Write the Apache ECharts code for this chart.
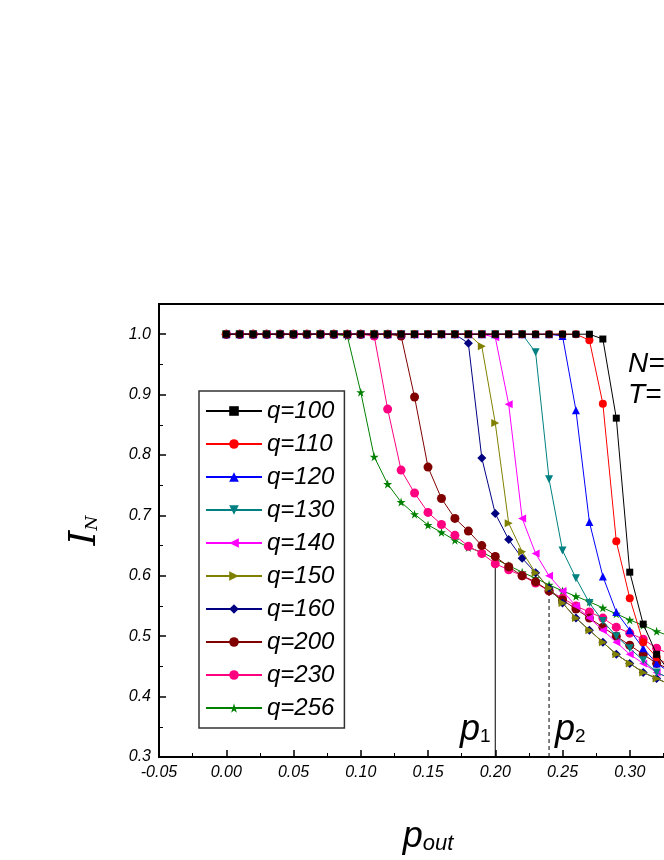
<!DOCTYPE html>
<html><head><meta charset="utf-8">
<script src="https://cdn.jsdelivr.net/npm/echarts@6/dist/echarts.min.js"></script>
<style>html,body{margin:0;padding:0;background:#fff;overflow:hidden}#c{width:740px;height:860px}</style>
</head><body><div id="c"></div>
<script>
const xs = [0.00,0.01,0.02,0.03,0.04,0.05,0.06,0.07,0.08,0.09,0.10,0.11,0.12,0.13,0.14,0.15,0.16,0.17,0.18,0.19,0.20,0.21,0.22,0.23,0.24,0.25,0.26,0.27,0.28,0.29,0.30,0.31,0.32,0.33];
const names = ['q=100','q=110','q=120','q=130','q=140','q=150','q=160','q=200','q=230','q=256'];
const q100 = [1,1,1,1,1,1,1,1,1,1,1,1,1,1,1,1,1,1,1,1,1,1,1,1,1,1,1,1,0.992,0.861,0.606,0.52,0.47,0.44];
const q110 = [1,1,1,1,1,1,1,1,1,1,1,1,1,1,1,1,1,1,1,1,1,1,1,1,1,1,1,0.99,0.885,0.657,0.563,0.49,0.465,0.45];
const q120 = [1,1,1,1,1,1,1,1,1,1,1,1,1,1,1,1,1,1,1,1,1,1,1,1,1,0.997,0.874,0.689,0.599,0.54,0.51,0.48,0.455,0.44];
const q130 = [1,1,1,1,1,1,1,1,1,1,1,1,1,1,1,1,1,1,1,1,1,1,1,0.97,0.76,0.642,0.596,0.555,0.525,0.50,0.48,0.46,0.44,0.43];
const q140 = [1,1,1,1,1,1,1,1,1,1,1,1,1,1,1,1,1,1,1,1,0.995,0.884,0.695,0.637,0.60,0.575,0.55,0.53,0.51,0.49,0.47,0.455,0.44,0.43];
const q150 = [1,1,1,1,1,1,1,1,1,1,1,1,1,1,1,1,1,1,1,0.98,0.853,0.687,0.64,0.605,0.58,0.555,0.53,0.51,0.49,0.47,0.455,0.44,0.43,0.42];
const q160 = [1,1,1,1,1,1,1,1,1,1,1,1,1,1,1,1,1,1,0.985,0.795,0.703,0.66,0.629,0.605,0.58,0.555,0.53,0.51,0.49,0.47,0.455,0.44,0.43,0.42];
const q200 = [1,1,1,1,1,1,1,1,1,1,1,1,1,0.997,0.896,0.78,0.728,0.695,0.674,0.65,0.632,0.615,0.60,0.59,0.575,0.56,0.545,0.53,0.515,0.50,0.485,0.47,0.455,0.445];
const q230 = [1,1,1,1,1,1,1,1,1,1,1,0.997,0.876,0.775,0.737,0.705,0.685,0.667,0.649,0.637,0.62,0.61,0.60,0.588,0.575,0.563,0.55,0.54,0.53,0.515,0.505,0.495,0.48,0.47];
const q256 = [1,1,1,1,1,1,1,1,1,0.997,0.904,0.797,0.752,0.722,0.702,0.684,0.672,0.659,0.647,0.639,0.628,0.617,0.606,0.596,0.585,0.575,0.566,0.557,0.547,0.537,0.527,0.518,0.508,0.50];
const allData = [q100,q110,q120,q130,q140,q150,q160,q200,q230,q256];
const colors = ['#000000','#ff0000','#0000ff','#008080','#ff00ff','#808000','#000080','#800000','#ff0080','#008000'];
const star = 'path://M50,0 L61,35 L98,35 L68,57 L79,91 L50,70 L21,91 L32,57 L2,35 L39,35 Z';
const symbols = ['rect','circle','triangle','triangle','triangle','triangle','diamond','circle','circle',star];
const rotates = [0,0,0,180,90,-90,0,0,0,0];
const sizes = [7,8,8,8,8,8,9,9,9,9];
const p1 = 0.20, p2 = 0.24;
const p1Line = [[p1,0.3],[p1,0.625]];
const p2Line = [[p2,0.3],[p2,0.585]];

const series = names.map((n,i)=>({
  name:n, type:'line', data: xs.map((x,j)=>[x,allData[i][j]]),
  symbol: symbols[i], symbolRotate: rotates[i], symbolSize: sizes[i],
  itemStyle:{color:colors[i]}, lineStyle:{color:colors[i],width:1}, z: 10-i
}));
series.push({type:'line',data:p1Line,symbol:'none',lineStyle:{color:'#000',width:1},silent:true,z:1});
series.push({type:'line',data:p2Line,symbol:'none',lineStyle:{color:'#000',width:1,type:[4,3]},silent:true,z:1});

const font = 'Liberation Sans';
const chart = echarts.init(document.getElementById('c'));
chart.setOption({
  animation:false,
  grid:{left:159,top:304,bottom:103,right:43,show:true,borderColor:'#000',borderWidth:2},
  legend:{
    orient:'vertical', left:199, top:391, data:names,
    backgroundColor:'#fff', borderColor:'#333', borderWidth:1.5, padding:[8,10,8,6],
    itemWidth:56, itemHeight:12, itemGap:9,
    textStyle:{fontFamily:font,fontStyle:'italic',fontSize:24,color:'#000'}
  },
  xAxis:{type:'value',min:-0.05,max:0.35,interval:0.05,
    axisLine:{onZero:false,lineStyle:{color:'#000',width:2}},
    axisTick:{inside:true,length:7,lineStyle:{color:'#000',width:1.5}},
    minorTick:{show:true,splitNumber:2,length:4,lineStyle:{color:'#000'}},
    splitLine:{show:false},
    axisLabel:{formatter:v=>v.toFixed(2),fontFamily:font,fontStyle:'italic',fontSize:16,color:'#000',margin:8},
    name:'{p|p}{s|out}', nameLocation:'middle', nameGap:62,
    nameTextStyle:{rich:{p:{fontFamily:font,fontStyle:'italic',fontSize:36,color:'#000'},s:{fontFamily:font,fontStyle:'italic',fontSize:22,color:'#000',padding:[14,0,0,0]}}}
  },
  yAxis:{type:'value',min:0.3,max:1.05,interval:0.1,
    axisLine:{onZero:false,lineStyle:{color:'#000',width:2}},
    axisTick:{inside:true,length:7,lineStyle:{color:'#000',width:1.5}},
    minorTick:{show:true,splitNumber:2,length:4,lineStyle:{color:'#000'}},
    splitLine:{show:false},
    axisLabel:{formatter:v=>v.toFixed(1),fontFamily:font,fontStyle:'italic',fontSize:16,color:'#000',margin:8,showMaxLabel:false},
    name:'{i|I}{s|N}', nameLocation:'middle', nameGap:55,
    nameTextStyle:{rich:{i:{fontFamily:'DejaVu Serif',fontStyle:'italic',fontSize:38,color:'#000'},s:{fontFamily:'DejaVu Serif',fontStyle:'italic',fontSize:17,color:'#000',padding:[16,0,0,0]}}}
  },
  graphic:[
    {type:'text',left:460,top:712,style:{text:'{p|p}{s|1}',rich:{p:{fontFamily:font,fontStyle:'italic',fontSize:36,fill:'#000'},s:{fontFamily:font,fontSize:19,fill:'#000',padding:[14,0,0,0]}}}},
    {type:'text',left:555,top:712,style:{text:'{p|p}{s|2}',rich:{p:{fontFamily:font,fontStyle:'italic',fontSize:36,fill:'#000'},s:{fontFamily:font,fontSize:19,fill:'#000',padding:[14,0,0,0]}}}},
    {type:'text',left:628,top:350,style:{text:'N=',fontFamily:font,fontStyle:'italic',fontSize:28,fill:'#000'}},
    {type:'text',left:628,top:381,style:{text:'T=',fontFamily:font,fontStyle:'italic',fontSize:28,fill:'#000'}}
  ],
  series:series
});
</script></body></html>
